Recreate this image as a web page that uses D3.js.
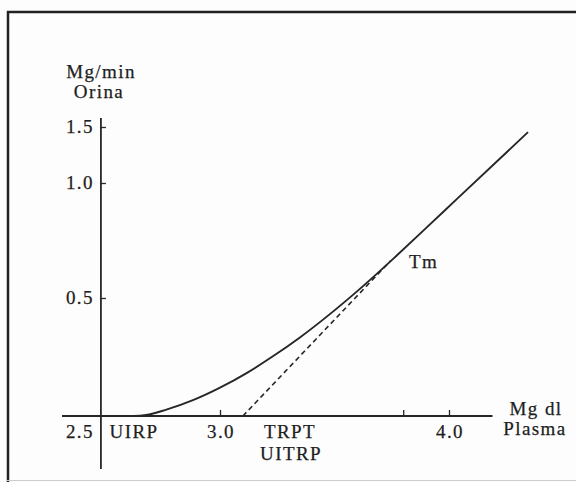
<!DOCTYPE html>
<html><head><meta charset="utf-8">
<script src="https://cdn.jsdelivr.net/npm/d3@7"></script>
<style>body{margin:0;background:#fff}svg{display:block}text{font-family:"Liberation Serif","DejaVu Serif",serif;fill:#1e1e1e;stroke:#1e1e1e;stroke-width:0.25px}</style>
</head><body>
<script>
// Data
const curveX = [2.585, 2.651, 2.769, 2.882, 3.0, 3.118, 3.231, 3.349, 3.555, 3.699, 3.773, 3.904, 4.035, 4.345];
const curveY = [0.0, 0.001, 0.028, 0.067, 0.120, 0.183, 0.253, 0.333, 0.492, 0.618, 0.686, 0.808, 0.931, 1.454];
const tangentX = [3.1, 3.745];
const tangentY = [0.0, 0.662];
const xTickValues = [3.0, 3.8, 4.0];
const xTickLabels = ["3.0", "", "4.0"];
const yTickValues = [0.5, 1.0, 1.5];
const yTickLabels = ["0.5", "1.0", "1.5"];
const yBreaks = [0, 0.5, 1.0, 1.5];

const W = 576, H = 482;
const svg = d3.select("body").append("svg").attr("width", W).attr("height", H);
svg.append("rect").attr("width", W).attr("height", H).attr("fill", "#fdfdfd");

// frame
svg.append("line").attr("x1", 7).attr("x2", 576).attr("y1", 12).attr("y2", 12).attr("stroke", "#222").attr("stroke-width", 2.5);
svg.append("line").attr("x1", 8).attr("x2", 8).attr("y1", 11).attr("y2", 482).attr("stroke", "#222").attr("stroke-width", 2.5);
svg.append("line").attr("x1", 7).attr("x2", 576).attr("y1", 480.5).attr("y2", 480.5).attr("stroke", "#ccc").attr("stroke-width", 1);

const x = d3.scaleLinear().domain([3.0, 4.0]).range([220, 449]);
const y = d3.scaleLinear().domain(yBreaks).range([416, 298, 183, 127]);

const ink = "#262626";
const x0 = x(2.48);

// x axis
const xa = svg.append("g").attr("transform", `translate(0,${y(0)})`)
  .call(d3.axisBottom(x).tickValues(xTickValues).tickSize(-6).tickFormat(() => ""));
xa.select(".domain").remove();
xa.selectAll(".tick line").attr("stroke", ink).attr("stroke-width", 1.3);
svg.append("line").attr("x1", x(2.31)).attr("x2", x(4.19)).attr("y1", y(0)).attr("y2", y(0)).attr("stroke", ink).attr("stroke-width", 2);

// y axis
const ya = svg.append("g").attr("transform", `translate(${x0},0)`)
  .call(d3.axisRight(y).tickValues(yTickValues).tickSize(5).tickFormat(() => ""));
ya.select(".domain").remove();
ya.selectAll(".tick line").attr("stroke", ink).attr("stroke-width", 1.3);
svg.append("line").attr("x1", x0).attr("x2", x0).attr("y1", 118).attr("y2", 469).attr("stroke", ink).attr("stroke-width", 1.8);

const fs = 19;
function label(t, px, py, anchor) {
  return svg.append("text").attr("x", px).attr("y", py).attr("text-anchor", anchor || "middle")
    .attr("font-size", fs).attr("letter-spacing", "1.4px").text(t);
}
// y tick labels
yTickValues.forEach((v, i) => label(yTickLabels[i], x0 - 7, y(v) + 6, "end"));
// x tick labels
xTickValues.forEach((v, i) => { if (xTickLabels[i]) label(xTickLabels[i], x(v) + 1, 438); });
label("2.5", x0 - 7, 438, "end");
label("UIRP", 134, 438);
label("TRPT", 290, 438);
label("UITRP", 291, 460);
label("Mg dl", 536, 415);
label("Plasma", 535, 435);
label("Mg/min", 101, 78);
label("Orina", 99, 98);
label("Tm", 409, 268, "start");

// curve
const pts = curveX.map((v, i) => [x(v), y(curveY[i])]);
svg.append("path").attr("d", d3.line().curve(d3.curveMonotoneX)(pts))
  .attr("fill", "none").attr("stroke", ink).attr("stroke-width", 1.9);

// tangent (dashed)
const tp = tangentX.map((v, i) => [x(v), y(tangentY[i])]);
svg.append("path").attr("d", d3.line()(tp)).attr("fill", "none").attr("stroke", ink)
  .attr("stroke-width", 1.6).attr("stroke-dasharray", "5,3.5");
</script>
</body></html>
